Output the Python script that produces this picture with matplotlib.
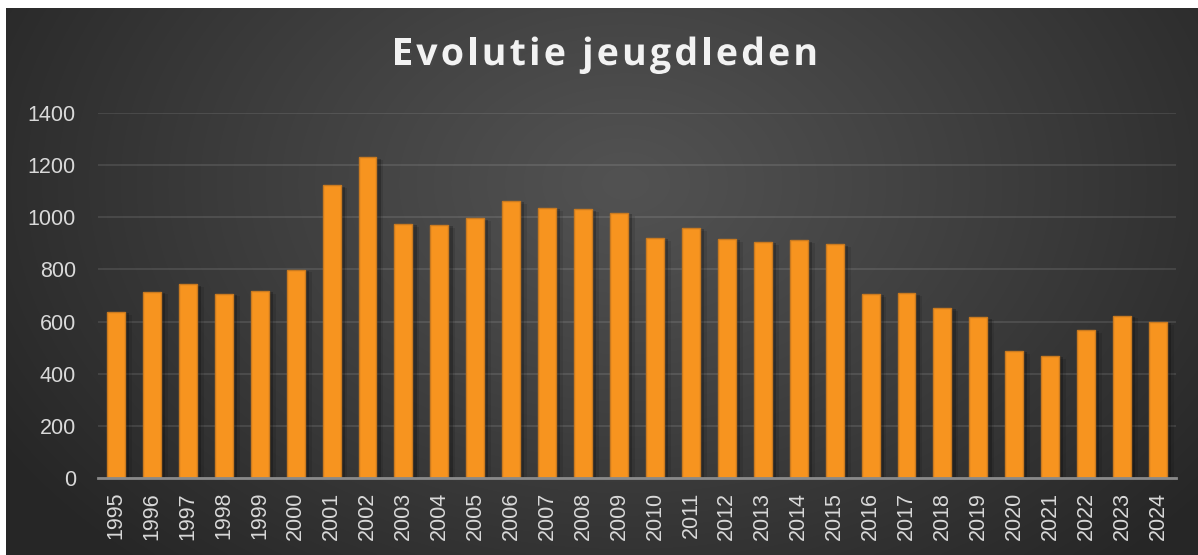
import numpy as np
import matplotlib
matplotlib.use('Agg')
import matplotlib.pyplot as plt
import matplotlib.patheffects as pe

# ---------------------------------------------------------------------------
# Data
# ---------------------------------------------------------------------------
years = [str(y) for y in range(1995, 2025)]
members = [637, 715, 743, 707, 718, 799, 1123, 1230, 975, 970,
           996, 1063, 1036, 1031, 1017, 921, 959, 917, 905, 912,
           896, 706, 708, 653, 616, 487, 469, 568, 623, 598]
yticks = [0, 200, 400, 600, 800, 1000, 1200, 1400]
title = 'Evolutie jeugdleden'

W, H = 1198, 555
fig = plt.figure(figsize=(W / 100, H / 100), dpi=100)
fig.patch.set_facecolor('white')

# --- radial gradient background ---
bg = fig.add_axes([6 / W, 0, (W - 6) / W, (H - 8) / H])
bg.set_axis_off()
gx, gy = np.meshgrid(np.linspace(0, 1, 600), np.linspace(0, 1, 300))
r = np.sqrt(((gx - 0.52) / 0.62) ** 2 + ((gy - 0.32) / 0.95) ** 2)
r = np.clip(r, 0, 1)
shade = 0x52 / 255 - (0x52 - 0x26) / 255 * r ** 1.1
bg.imshow(np.dstack([shade, shade, shade]), extent=[0, 1, 1, 0],
          aspect='auto', interpolation='bilinear')
bg.set_xlim(0, 1)
bg.set_ylim(1, 0)

# --- bars ---
ax = fig.add_axes([98 / W, (H - 478) / H, (1176 - 98) / W, (478 - 113) / H])
ax.patch.set_alpha(0)
x = np.arange(len(years))
bars = ax.bar(x, members, width=0.5, color='#f7941f', edgecolor='#c97a20',
              linewidth=1, zorder=3)
for b in bars:
    b.set_path_effects([pe.SimplePatchShadow(offset=(3, -1), shadow_rgbFace='black',
                                             alpha=0.22),
                        pe.SimplePatchShadow(offset=(5, -2), shadow_rgbFace='black',
                                             alpha=0.1),
                        pe.Normal()])

ax.set_xlim(-0.5, len(years) - 0.5)
ax.set_ylim(0, 1400)
ax.set_yticks(yticks)
ax.set_xticks(x)
ax.set_xticklabels(years, rotation=90)
ax.grid(True, axis='y', color='white', alpha=0.1, linewidth=1.5, zorder=0)
ax.set_axisbelow(True)
for s in ['top', 'right', 'left']:
    ax.spines[s].set_visible(False)
ax.spines['bottom'].set_color('#8a8a8a')
ax.spines['bottom'].set_linewidth(2)
ax.spines['bottom'].set_zorder(4)
ax.tick_params(length=0, colors='#d9d9d9', labelsize=15.5)
for lab in ax.get_xticklabels() + ax.get_yticklabels():
    lab.set_fontfamily('Liberation Sans')
    lab.set_color('#d9d9d9')
ax.tick_params(axis='y', pad=16)
ax.tick_params(axis='x', pad=10)

# --- title with letter spacing ---
renderer = fig.canvas.get_renderer()
fprops = dict(fontsize=27, fontweight='bold', family='Open Sans')


def text_width(s):
    t = fig.text(0, 0, s, **fprops)
    w = t.get_window_extent(renderer).width
    t.remove()
    return w


natural = text_width(title)
target = 818 - 392
spacing = (target - natural) / (len(title) - 1)
x0 = 605 - target / 2
for i, ch in enumerate(title):
    if ch == ' ':
        continue
    px = x0 + text_width(title[:i].replace(' ', '\u00a0')) + i * spacing if i else x0
    fig.text(px / W, 1 - 55 / H, ch, color='#f2f2f2', va='center', ha='left',
             path_effects=[pe.SimplePatchShadow(offset=(1.5, -1.5), alpha=0.55),
                           pe.Normal()], **fprops)

fig.savefig('out.png', dpi=100, facecolor=fig.get_facecolor())
